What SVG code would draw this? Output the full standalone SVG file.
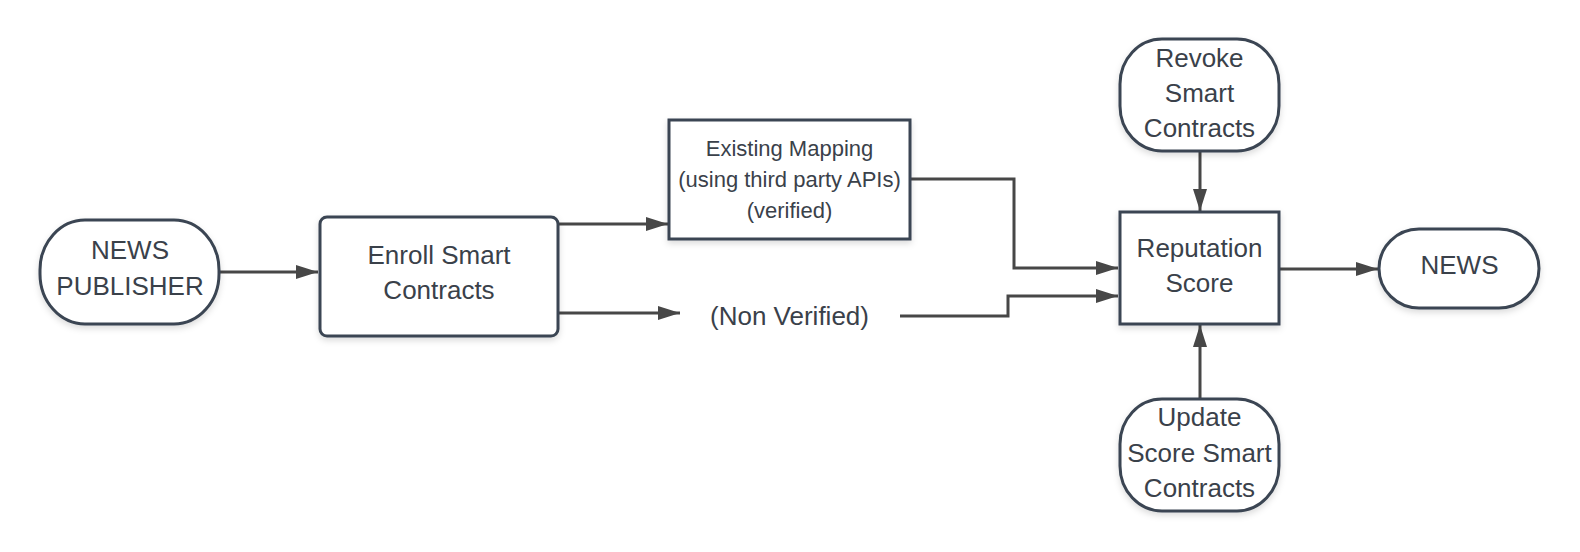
<svg xmlns="http://www.w3.org/2000/svg" width="1580" height="552" viewBox="0 0 1580 552">
  <defs>
    <filter id="sh" x="-10%" y="-10%" width="120%" height="130%">
      <feDropShadow dx="0" dy="3" stdDeviation="3" flood-color="#000" flood-opacity="0.14"/>
    </filter>
    <marker id="arr" markerUnits="userSpaceOnUse" markerWidth="22" markerHeight="14" refX="22" refY="7" orient="auto">
      <path d="M0,0 L22,7 L0,14 z" fill="#474747"/>
    </marker>
  </defs>
  <style>
    .node { fill: #ffffff; stroke: #3a4552; stroke-width: 3; filter: url(#sh); }
    .lbl { font-family: "Liberation Sans", Arial, sans-serif; font-size: 26px; fill: #3a414a; text-anchor: middle; }
    .sm { font-size: 22px; }
    .edge { fill: none; stroke: #474747; stroke-width: 3; marker-end: url(#arr); }
  </style>
  <rect width="1580" height="552" fill="#ffffff"/>

  <g id="connectors">
    <path class="edge" d="M220,272 H318"/>
    <path class="edge" d="M558,224 H668"/>
    <path class="edge" d="M558,313 H680"/>
    <path class="edge" d="M910,179 H1014 V268 H1118"/>
    <path class="edge" d="M900,316 H1008 V296 H1118"/>
    <path class="edge" d="M1200,152 V211"/>
    <path class="edge" d="M1200,399 V325"/>
    <path class="edge" d="M1280,269 H1378"/>
  </g>

  <g id="news-publisher">
    <rect class="node" x="40" y="220" width="179" height="104" rx="45" ry="50"/>
    <text class="lbl" x="130" y="259">NEWS</text>
    <text class="lbl" x="130" y="295">PUBLISHER</text>
  </g>

  <g id="enroll">
    <rect class="node" x="320" y="217" width="238" height="119" rx="7"/>
    <text class="lbl" x="439" y="264">Enroll Smart</text>
    <text class="lbl" x="439" y="299">Contracts</text>
  </g>

  <g id="existing-mapping">
    <rect class="node" x="669" y="120" width="241" height="119"/>
    <text class="lbl sm" x="789.5" y="156">Existing Mapping</text>
    <text class="lbl sm" x="789.5" y="187">(using third party APIs)</text>
    <text class="lbl sm" x="789.5" y="218">(verified)</text>
  </g>

  <g id="non-verified">
    <text class="lbl" x="789.5" y="325">(Non Verified)</text>
  </g>

  <g id="reputation">
    <rect class="node" x="1120" y="212" width="159" height="112"/>
    <text class="lbl" x="1199.5" y="257">Reputation</text>
    <text class="lbl" x="1199.5" y="292">Score</text>
  </g>

  <g id="revoke">
    <rect class="node" x="1120" y="39" width="159" height="112" rx="42" ry="45"/>
    <text class="lbl" x="1199.5" y="67">Revoke</text>
    <text class="lbl" x="1199.5" y="102">Smart</text>
    <text class="lbl" x="1199.5" y="137">Contracts</text>
  </g>

  <g id="update">
    <rect class="node" x="1120" y="399" width="159" height="112" rx="42" ry="45"/>
    <text class="lbl" x="1199.5" y="426">Update</text>
    <text class="lbl" x="1199.5" y="462">Score Smart</text>
    <text class="lbl" x="1199.5" y="497">Contracts</text>
  </g>

  <g id="news">
    <rect class="node" x="1379" y="229" width="160" height="79" rx="40"/>
    <text class="lbl" x="1459.5" y="274">NEWS</text>
  </g>
</svg>
